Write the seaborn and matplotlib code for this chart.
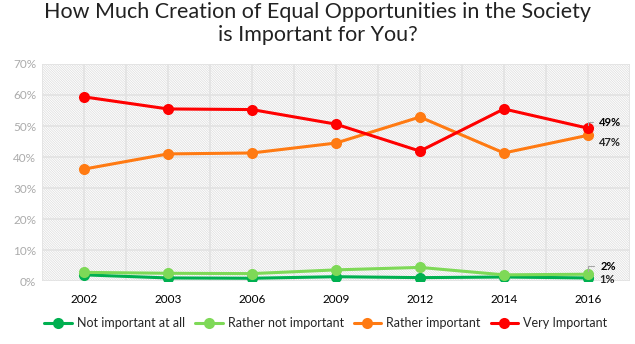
import matplotlib
matplotlib.use("Agg")
import matplotlib.pyplot as plt
import seaborn as sns
import pandas as pd
from matplotlib.patches import Rectangle

years = ["2002", "2003", "2006", "2009", "2012", "2014", "2016"]
not_important = [2.0, 1.0, 0.9, 1.4, 1.1, 1.3, 1.0]
rather_not = [2.8, 2.5, 2.4, 3.6, 4.4, 2.0, 2.2]
rather_imp = [36.1, 41.0, 41.3, 44.5, 52.9, 41.3, 47.0]
very_imp = [59.4, 55.5, 55.3, 50.6, 41.9, 55.5, 49.3]
series_names = ["Not important at all", "Rather not important", "Rather important", "Very Important"]
colors = ["#00B050", "#7ED957", "#FF7A12", "#FF0000"]
title = "How Much Creation of Equal Opportunities in the Society\nis Important for You?"

sns.set_theme(style="white")
plt.rcParams['font.family'] = ['Lato', 'DejaVu Sans']
plt.rcParams['hatch.color'] = '#DCDCDC'
plt.rcParams['hatch.linewidth'] = 0.5

rows = []
for name, vals in zip(series_names, [not_important, rather_not, rather_imp, very_imp]):
    for i, (y, v) in enumerate(zip(years, vals)):
        rows.append({"x": i, "year": y, "value": v, "series": name})
df = pd.DataFrame(rows)

fig = plt.figure(figsize=(6.35, 3.44), dpi=100)
ax = fig.add_axes([0.066, 0.183, 0.926, 0.631])

ax.add_patch(Rectangle((0, 0), 1, 1, transform=ax.transAxes, facecolor='white',
                       edgecolor='#DCDCDC', linewidth=0, hatch='\\' * 14, zorder=0))

sns.lineplot(data=df, x="x", y="value", hue="series", hue_order=series_names,
             palette=colors, marker="o", markersize=8, markeredgewidth=0,
             linewidth=2.2, ax=ax, zorder=3)

ax.set_xlim(-0.5, 6.5)
ax.set_ylim(0, 70)
ax.set_yticks(range(0, 71, 10))
ax.set_yticklabels([f"{v}%" for v in range(0, 71, 10)], color="#ABABAB", fontsize=8.5)
ax.set_xticks(range(len(years)))
ax.set_xticklabels(years, fontsize=8.5, color="black")
ax.tick_params(axis='both', length=0, pad=4)
ax.tick_params(axis='x', pad=9)
ax.grid(axis='y', color='#E2E2E2', linewidth=1.2, zorder=1)
for xv in [i * 0.5 for i in range(-1, 14)]:
    ax.axvline(xv, color='#E2E2E2', linewidth=1.2, zorder=1)
ax.set_xlabel("")
ax.set_ylabel("")
for s in ax.spines.values():
    s.set_visible(False)

# end labels
ax.annotate("49%", xy=(6, very_imp[-1]), xytext=(6.13, 51.2), fontsize=8, fontweight='bold',
            va='center', ha='left', color='black',
            arrowprops=dict(arrowstyle='-', color='#A6A6A6', lw=0.8,
                            connectionstyle='angle,angleA=0,angleB=90,rad=0'))
ax.text(6.13, 44.6, "47%", fontsize=8, fontweight='bold', va='center', ha='left')
ax.annotate("2%", xy=(6, rather_not[-1]), xytext=(6.15, 4.8), fontsize=8, fontweight='bold',
            va='center', ha='left', color='black',
            arrowprops=dict(arrowstyle='-', color='#A6A6A6', lw=0.8,
                            connectionstyle='angle,angleA=0,angleB=90,rad=0'))
ax.text(6.13, 0.5, "1%", fontsize=8, fontweight='bold', va='center', ha='left')

fig.suptitle(title, fontsize=15.5, y=0.995, color='#222222')

leg = ax.get_legend()
if leg is not None:
    leg.remove()
handles, labels = ax.get_legend_handles_labels()
fig.legend(handles, labels, loc='center', bbox_to_anchor=(0.513, 0.061), ncol=4,
           frameon=False, fontsize=9, handlelength=2.2, columnspacing=0.8,
           handletextpad=0.4)

fig.savefig("out.png", dpi=100)
